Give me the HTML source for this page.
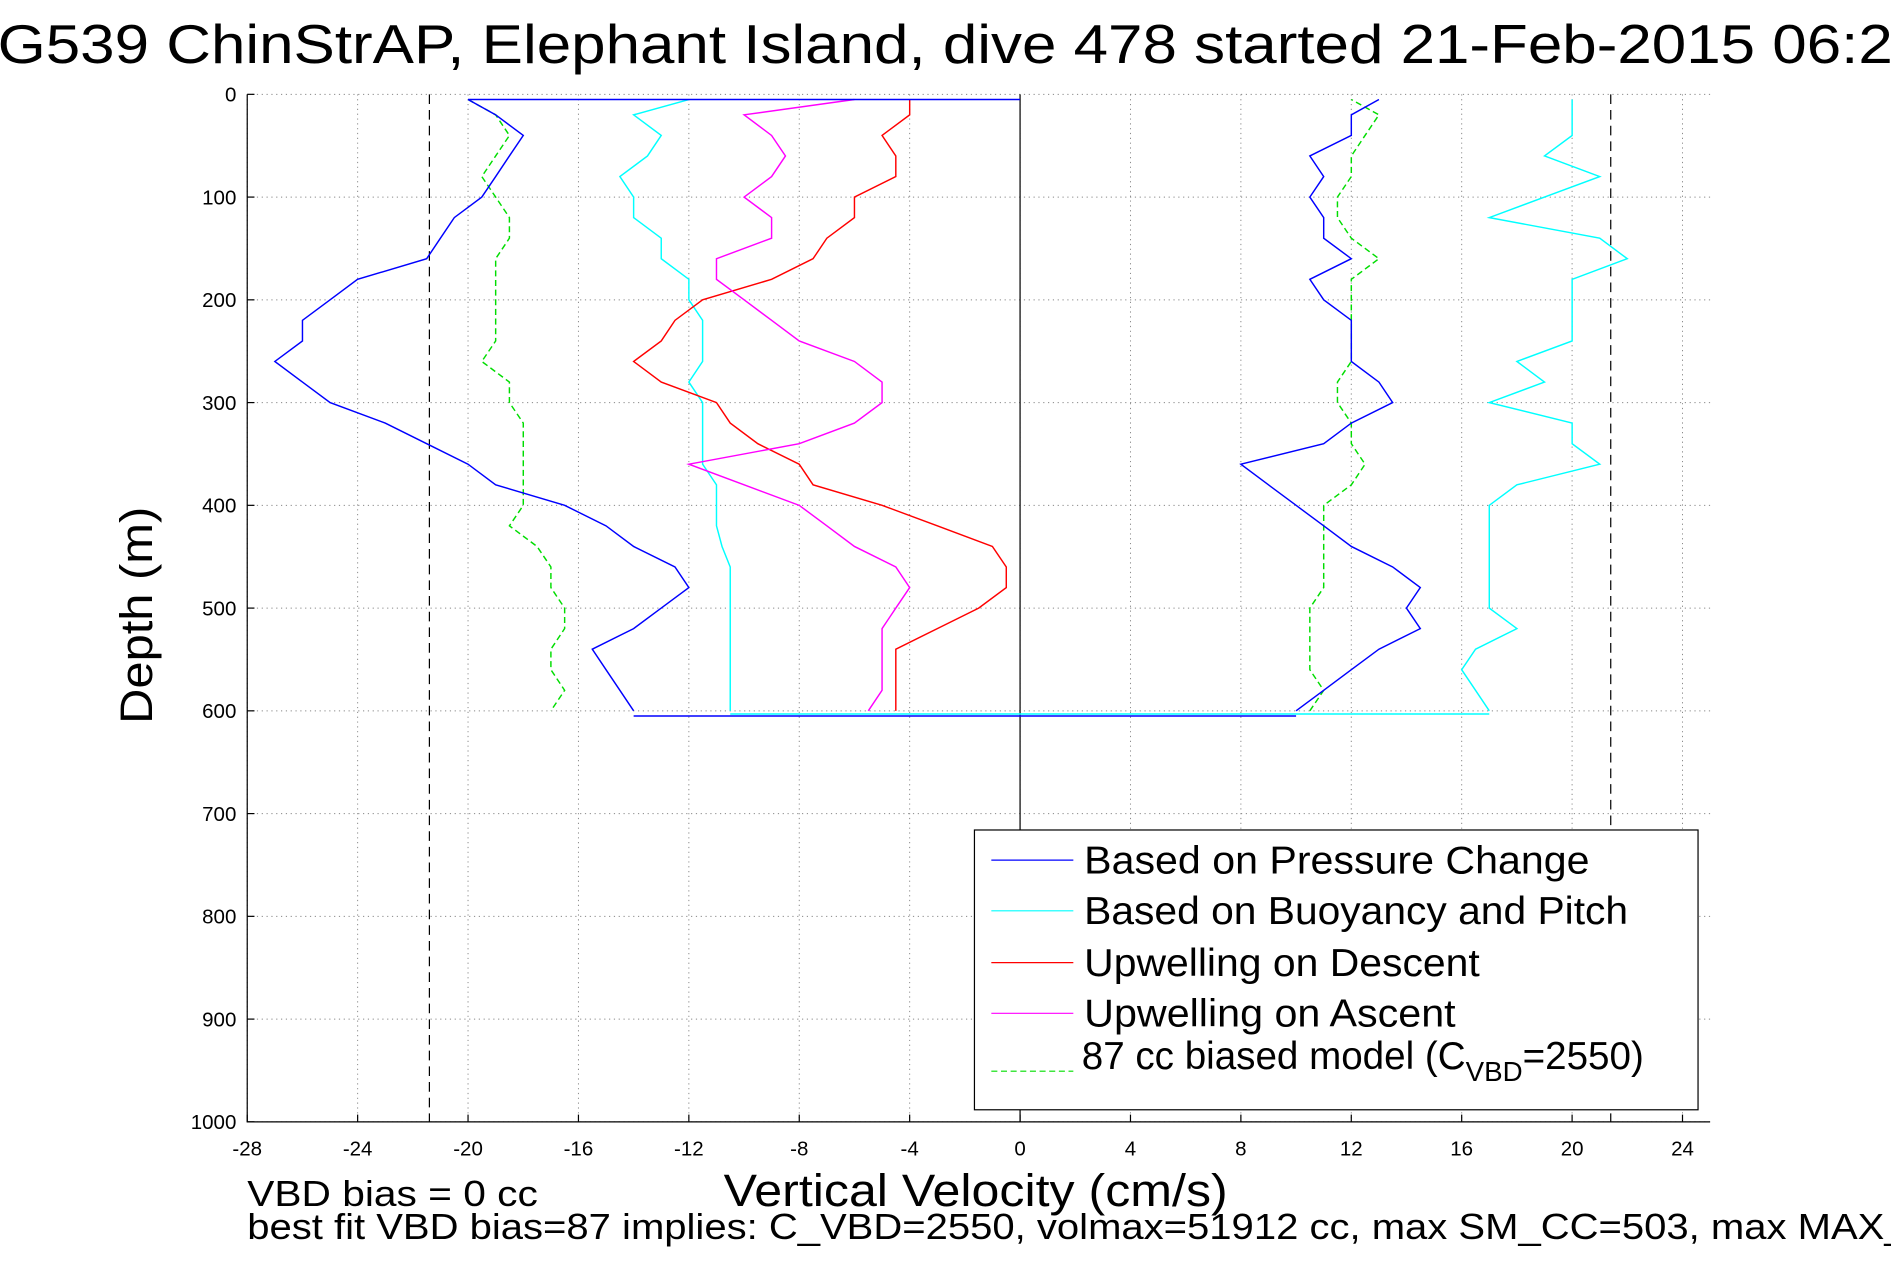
<!DOCTYPE html>
<html><head><meta charset="utf-8"><style>
html,body{margin:0;padding:0;background:#fff;overflow:hidden}
svg{display:block;font-family:"Liberation Sans",sans-serif}
</style></head><body>
<svg id="chart" width="1891" height="1262" viewBox="0 0 1568 1046" xmlns="http://www.w3.org/2000/svg">
<rect width="1568" height="1046" fill="#fff"/>
<text x="-2" y="52" font-size="45" textLength="1600" lengthAdjust="spacingAndGlyphs">G539 ChinStrAP, Elephant Island, dive 478 started 21-Feb-2015 06:20</text>
<g id="grid"></g>
<g id="series"></g>
<g id="axes"></g>
<text transform="translate(126,510) rotate(-90)" text-anchor="middle" font-size="38" textLength="180" lengthAdjust="spacingAndGlyphs">Depth (m)</text>
<text x="600" y="1000" font-size="38" textLength="418" lengthAdjust="spacingAndGlyphs">Vertical Velocity (cm/s)</text>
<text x="205" y="1000" font-size="30" textLength="241" lengthAdjust="spacingAndGlyphs">VBD bias = 0 cc</text>
<text x="205" y="1027" font-size="30" textLength="1470" lengthAdjust="spacingAndGlyphs">best fit VBD bias=87 implies: C_VBD=2550, volmax=51912 cc, max SM_CC=503, max MAX_BUOY</text>
<g>
<rect x="808" y="688" width="600" height="232" fill="#fff" stroke="#000" stroke-width="1"/>
<line x1="822" y1="713" x2="890" y2="713" stroke="#0000ff"/>
<text x="899" y="724" font-size="32" textLength="419" lengthAdjust="spacingAndGlyphs">Based on Pressure Change</text>
<line x1="822" y1="755" x2="890" y2="755" stroke="#00ffff"/>
<text x="899" y="766" font-size="32" textLength="451" lengthAdjust="spacingAndGlyphs">Based on Buoyancy and Pitch</text>
<line x1="822" y1="798" x2="890" y2="798" stroke="#ff0000"/>
<text x="899" y="809" font-size="32" textLength="328" lengthAdjust="spacingAndGlyphs">Upwelling on Descent</text>
<line x1="822" y1="840" x2="890" y2="840" stroke="#ff00ff"/>
<text x="899" y="851" font-size="32" textLength="308" lengthAdjust="spacingAndGlyphs">Upwelling on Ascent</text>
<line x1="822" y1="888" x2="890" y2="888" stroke="#00dd00" stroke-dasharray="5,3"/>
<text x="897" y="886" font-size="32">87 cc biased model (C<tspan font-size="23" dy="10">VBD</tspan><tspan dy="-10">=2550)</tspan></text>
</g>
</svg>
<script>
const xTicks=[-28,-24,-20,-16,-12,-8,-4,0,4,8,12,16,20,24];
const yTicks=[0,100,200,300,400,500,600,700,800,900,1000];
const depthDown=[5,20,40,60,80,100,120,140,160,180,200,220,240,260,280,300,320,340,360,380,400,420,440,460,480,500,520,540,560,580,600];
const depthUp=[600,580,560,540,520,500,480,460,440,420,400,380,360,340,320,300,280,260,240,220,200,180,160,140,120,100,80,60,40,20,5];
const blueDown=[-20,-19,-18,-18.5,-19,-19.5,-20.5,-21,-21.5,-24,-25,-26,-26,-27,-26,-25,-23,-21.5,-20,-19,-16.5,-15,-14,-12.5,-12,-13,-14,-15.5,-15,-14.5,-14];
const blueUp=[10,11,12,13,14.5,14,14.5,13.5,12,11,10,9,8,11,12,13.5,13,12,12,12,11,10.5,12,11,11,10.5,11,10.5,12,12,13];
const cyanDown=[-12,-14,-13,-13.5,-14.5,-14,-14,-13,-13,-12,-12,-11.5,-11.5,-11.5,-12,-11.5,-11.5,-11.5,-11.5,-11,-11,-11,-10.8,-10.5,-10.5,-10.5,-10.5,-10.5,-10.5,-10.5,-10.5];
const cyanUp=[17,16.5,16,16.5,18,17,17,17,17,17,17,18,21,20,20,17,19,18,20,20,20,20,22,21,17,19,21,19,20,20,20];
const redDown=[-4,-4,-5,-4.5,-4.5,-6,-6,-7,-7.5,-9,-11.5,-12.5,-13,-14,-13,-11,-10.5,-9.5,-8,-7.5,-5,-3,-1,-0.5,-0.5,-1.5,-3,-4.5,-4.5,-4.5,-4.5];
const magentaUp=[-5.5,-5,-5,-5,-5,-4.5,-4,-4.5,-6,-7,-8,-10,-12,-8,-6,-5,-5,-6,-8,-9,-10,-11,-11,-9,-9,-10,-9,-8.5,-9,-10,-6];
const greenDown=[-20,-19,-18.5,-19,-19.5,-19,-18.5,-18.5,-19,-19,-19,-19,-19,-19.5,-18.5,-18.5,-18,-18,-18,-18,-18,-18.5,-17.5,-17,-17,-16.5,-16.5,-17,-17,-16.5,-17];
const greenUp=[10.5,11,10.5,10.5,10.5,10.5,11,11,11,11,11,12,12.5,12,12,11.5,11.5,12,12,12,12,12,13,12,11.5,11.5,12,12,12.5,13,12];

const X0=205,X1=1418,Y0=78,Y1=930,XMIN=-28,XMAX=25,DMAX=1000;
const xs=v=>X0+(v-XMIN)/(XMAX-XMIN)*(X1-X0);
const ys=d=>Y0+d/DMAX*(Y1-Y0);
const NS="http://www.w3.org/2000/svg";
function mk(tag,attrs,parent){const e=document.createElementNS(NS,tag);for(const k in attrs)e.setAttribute(k,attrs[k]);parent.appendChild(e);return e;}
const grid=document.getElementById('grid'),axes=document.getElementById('axes'),series=document.getElementById('series');
xTicks.forEach(t=>{
 const l=mk('line',{x1:xs(t),x2:xs(t),y1:Y0,y2:Y1,stroke:'#888','stroke-dasharray':'1,3','stroke-width':0.8},grid);
 
 
 const tx=mk('text',{x:xs(t),y:Y1+28,'text-anchor':'middle','font-size':17},axes);
 tx.textContent=t;
 
 
 mk('line',{x1:xs(t),x2:xs(t),y1:Y1,y2:Y1-6,stroke:'#000'},axes);
});
yTicks.forEach(t=>{
 const l=mk('line',{x1:X0,x2:X1,y1:ys(t),y2:ys(t),stroke:'#888','stroke-dasharray':'1,3','stroke-width':0.8},grid);
 
 
 const tx=mk('text',{x:X0-9,y:ys(t)+6,'text-anchor':'end','font-size':17},axes);
 tx.textContent=t;
 
 
 mk('line',{x1:X0,x2:X0+6,y1:ys(t),y2:ys(t),stroke:'#000'},axes);
});
[-21.4,21.4].forEach(v=>{
 const l=mk('line',{x1:xs(v),x2:xs(v),y1:Y0,y2:Y1,stroke:'#000','stroke-dasharray':'8,5','stroke-width':1},grid);
 
 
});
const zl=mk('line',{x1:xs(0),x2:xs(0),y1:Y0,y2:Y1,stroke:'#000','stroke-width':1},grid);


const ax=mk('path',{d:`M${X0},${Y0}V${Y1}H${X1}`,fill:'none',stroke:'#000','stroke-width':1},axes);


function line(vals,depths,color,name,dash){
 const pts=vals.map((v,i)=>xs(v).toFixed(1)+','+ys(depths[i]).toFixed(1)).join(' ');
 const p=mk('polyline',{points:pts,fill:'none',stroke:color,'stroke-width':1.2},series);
 if(dash)p.setAttribute('stroke-dasharray',dash);
 
 
}
line(greenDown,depthDown,'#00dd00','model-descent-line','5,3');
line(greenUp,depthUp,'#00dd00','model-ascent-line','5,3');
line(cyanDown,depthDown,'#00ffff','buoyancy-descent-line');
line(cyanUp,depthUp,'#00ffff','buoyancy-ascent-line');
line(redDown,depthDown,'#ff0000','upwelling-descent-line');
line(magentaUp,depthUp,'#ff00ff','upwelling-ascent-line');
line(blueDown,depthDown,'#0000ff','pressure-descent-line');
line(blueUp,depthUp,'#0000ff','pressure-ascent-line');
line([blueDown[0],0],[depthDown[0],depthDown[0]],'#0000ff','pressure-surface-segment');
line([blueDown[blueDown.length-1],blueUp[0]],[605,605],'#0000ff','pressure-bottom-segment');
line([cyanDown[cyanDown.length-1],cyanUp[0]],[603,603],'#00ffff','buoyancy-bottom-segment');
</script>
</body></html>
